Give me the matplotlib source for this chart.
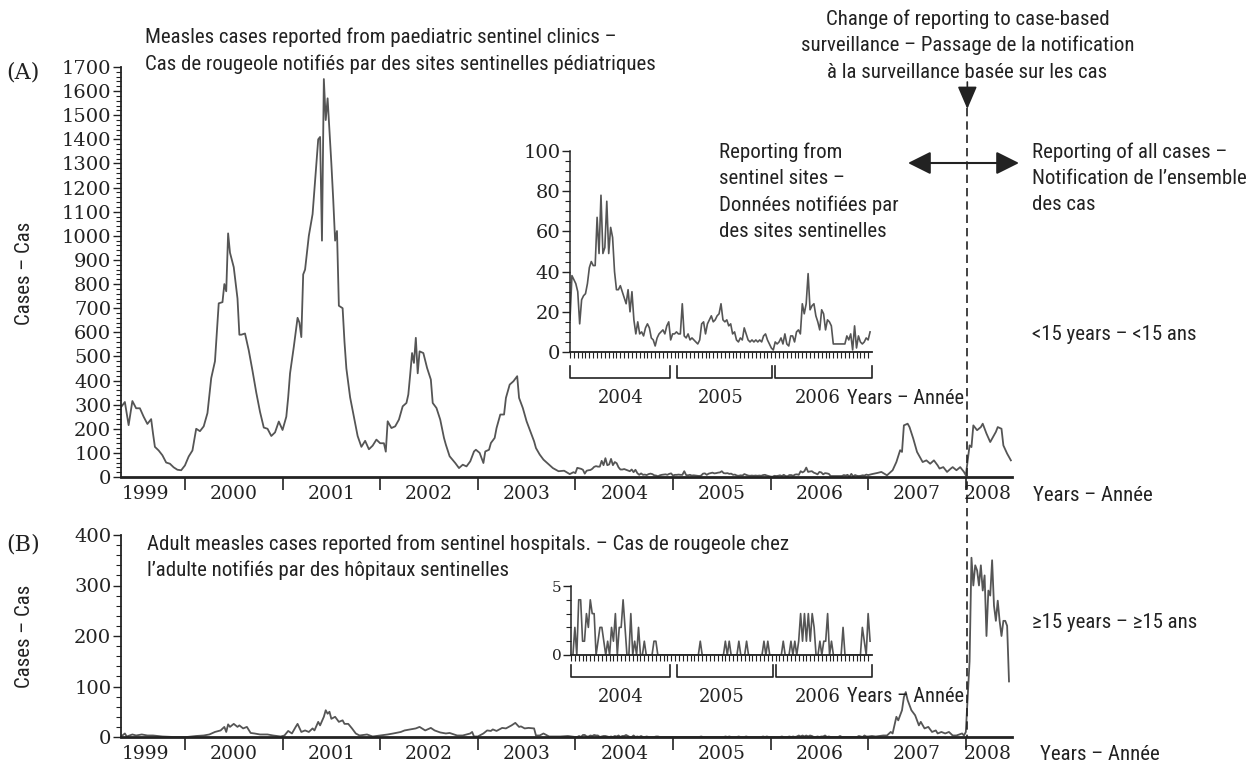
import numpy as np
import matplotlib.pyplot as plt
from matplotlib import font_manager
from matplotlib.ticker import MultipleLocator, FixedLocator
from matplotlib.transforms import blended_transform_factory
from matplotlib.lines import Line2D
from matplotlib.patches import FancyArrowPatch

W, H = 1256, 767
INK = '#222222'
LINE = '#555555'

# pick a narrow-ish sans if we have one
have = {f.name for f in font_manager.fontManager.ttflist}
if 'Roboto Condensed' in have:
    SANS, SANS_SIZE = 'Roboto Condensed', 15
elif 'Roboto' in have:
    SANS, SANS_SIZE = 'Roboto', 13.3
else:
    SANS, SANS_SIZE = 'Open Sans', 12.6
plt.rcParams['font.family'] = ['DejaVu Serif']

# weekly counts, weeks numbered from the start of 1999 (week 52 = 1 Jan 2000)
years = list(range(1999, 2009))
change_week = 468.8

weeks_child_early = [18, 20, 22, 24, 26, 28, 30, 32, 34, 35, 36, 38, 40, 42, 44, 46, 48, 50, 52, 54,
                     56, 58, 60, 62, 64, 66, 68, 70, 72, 73, 74, 75, 76, 78, 80, 81, 82, 84, 86, 88,
                     90, 92, 94, 96, 98, 100, 102, 104, 106, 107, 108, 110, 112, 113, 114, 115, 116, 118, 120, 122,
                     123, 124, 125, 126, 127, 128, 130, 131, 132, 133, 134, 136, 137, 138, 140, 142, 144, 146, 148, 150,
                     152, 154, 156, 158, 159, 160, 162, 164, 166, 168, 170, 171, 172, 173, 174, 175, 176, 177, 179, 181,
                     183, 184, 186, 188, 190, 191, 193, 196, 198, 200, 202, 204, 206, 207, 209, 211, 212, 214, 215, 217,
                     218, 220, 222, 223, 225, 227, 229, 230, 232, 234, 236, 238, 239, 241, 243, 246, 248, 251, 254, 257,
                     259]
cases_child_early = [290, 311, 215, 315, 285, 285, 250, 220, 240, 180, 125, 110, 90, 60, 55, 40, 30, 28, 48, 85,
                     110, 200, 190, 210, 265, 410, 480, 720, 725, 800, 770, 1010, 930, 870, 740, 590, 590, 595, 525, 440,
                     350, 270, 205, 200, 170, 185, 230, 195, 250, 330, 430, 540, 660, 640, 580, 840, 860, 1000, 1090, 1300,
                     1400, 1410, 980, 1650, 1480, 1570, 1300, 1150, 980, 1020, 710, 700, 560, 450, 330, 250, 170, 125, 150, 115,
                     130, 155, 140, 140, 105, 231, 203, 210, 238, 293, 307, 342, 425, 514, 473, 577, 430, 521, 514, 452,
                     404, 307, 286, 238, 162, 134, 86, 58, 37, 51, 44, 65, 106, 113, 100, 58, 106, 113, 141, 162,
                     203, 259, 259, 328, 383, 397, 418, 328, 286, 231, 189, 148, 120, 93, 72, 51, 37, 24, 26, 12,
                     20]

# sentinel clinics, <15 years, weekly 2004-2006 (inset A)
child_2004 = [16, 38, 36, 34, 30, 14, 26, 28, 29, 34, 42, 45, 43, 43, 67, 49, 78, 49, 52, 75,
              49, 62, 57, 40, 31, 31, 33, 30, 27, 24, 31, 20, 30, 16, 9, 15, 9, 10, 8, 12,
              14, 12, 7, 6, 3, 7, 9, 10, 11, 9, 13, 15]
child_2005 = [6, 9, 9, 10, 9, 9, 24, 8, 7, 9, 6, 7, 6, 5, 4, 6, 14, 15, 9, 14,
              16, 18, 15, 16, 18, 19, 24, 16, 15, 16, 13, 14, 9, 10, 6, 5, 7, 6, 12, 9,
              6, 5, 6, 5, 6, 5, 6, 5, 8, 9, 6, 4]
child_2006 = [2, 1, 5, 4, 5, 7, 4, 9, 4, 3, 8, 8, 5, 10, 11, 9, 24, 19, 24, 39,
              21, 23, 24, 18, 15, 11, 21, 19, 11, 16, 15, 13, 4, 4, 4, 4, 4, 4, 4, 8,
              6, 9, 1, 13, 2, 8, 5, 4, 5, 7, 6, 10]

weeks_child_late = [416, 418, 421, 423, 426, 429, 431, 433, 434, 435, 437, 438, 440, 442, 444, 445, 447, 449, 451, 453,
                    454, 456, 458, 460, 461, 463, 465, 467, 468, 469, 470, 471, 472, 474, 476, 477, 479, 481, 484, 485,
                    487, 488, 490, 492]
cases_child_late = [8, 12, 17, 21, 7, 28, 62, 111, 104, 214, 221, 207, 159, 104, 76, 62, 69, 55, 69, 48,
                    35, 41, 21, 35, 41, 28, 41, 21, 7, 69, 131, 124, 214, 194, 207, 221, 180, 145, 187, 207,
                    200, 131, 97, 69]

weeks_adult_early = [18, 20, 21, 24, 26, 29, 32, 35, 40, 46, 53, 58, 62, 65, 68, 71, 73, 74, 75, 76,
                     78, 80, 81, 83, 85, 87, 89, 92, 96, 99, 103, 105, 107, 109, 111, 112, 114, 116, 118, 120,
                     121, 123, 124, 126, 127, 128, 129, 130, 132, 134, 136, 137, 139, 141, 143, 145, 149, 152, 156, 160,
                     163, 167, 169, 172, 175, 177, 180, 183, 185, 188, 191, 193, 197, 200, 204, 205, 206, 208, 211, 213,
                     215, 216, 218, 221, 223, 226, 228, 230, 231, 233, 235, 238, 239, 241, 243, 246, 248, 252, 256, 258]
cases_adult_early = [1, 7, 1, 5, 3, 5, 3, 3, 1, 0, 0, 2, 3, 5, 10, 13, 20, 10, 25, 20,
                     26, 20, 23, 17, 20, 8, 7, 5, 5, 3, 1, 3, 12, 7, 20, 26, 10, 13, 10, 17,
                     13, 30, 23, 40, 53, 46, 50, 36, 40, 30, 33, 26, 26, 17, 7, 3, 5, 1, 3, 5,
                     7, 10, 13, 15, 17, 20, 13, 18, 13, 9, 7, 8, 3, 3, 7, 10, 1, 1, 7, 13,
                     12, 15, 12, 18, 17, 23, 28, 20, 21, 17, 18, 17, 3, 3, 7, 1, 1, 1, 2, 1]

# sentinel hospitals, >=15 years, weekly 2004-2006 (inset B)
adult_2004 = [0, 0, 2, 0, 4, 4, 1, 1, 3, 2, 4, 3, 3, 0, 1, 2, 2, 1, 0, 1,
              0, 2, 1, 3, 0, 2, 2, 4, 2, 0, 0, 3, 0, 1, 0, 2, 0, 0, 1, 0,
              0, 0, 0, 1, 1, 0, 0, 0, 0, 0, 0, 0]
adult_2005 = [0, 0, 0, 0, 0, 0, 0, 0, 0, 0, 0, 0, 0, 0, 0, 1, 0, 0, 0, 0,
              0, 0, 0, 0, 0, 0, 0, 0, 1, 0, 1, 0, 0, 0, 0, 1, 0, 0, 0, 1,
              0, 0, 0, 0, 0, 0, 0, 0, 1, 0, 1, 0]
adult_2006 = [0, 0, 0, 0, 0, 0, 1, 0, 0, 0, 1, 0, 1, 0, 1, 3, 1, 3, 1, 3,
              1, 3, 2, 0, 0, 1, 0, 1, 1, 3, 0, 1, 0, 0, 0, 0, 0, 2, 0, 0,
              0, 0, 0, 0, 0, 0, 0, 2, 1, 0, 3, 1]

weeks_adult_late = [416, 418, 420, 422, 424, 426, 428, 429, 431, 432, 434, 435, 436, 437, 439, 441, 443, 444, 446, 448,
                    450, 452, 453, 455, 457, 459, 461, 463, 466, 467, 468, 469, 470, 471, 472, 473, 474, 475, 476, 477,
                    478, 479, 480, 481, 482, 483, 484, 485, 486, 487, 488, 489, 490, 491]
cases_adult_late = [1, 2, 1, 2, 3, 3, 10, 7, 40, 33, 53, 79, 89, 73, 53, 43, 23, 30, 17, 20,
                    10, 13, 7, 10, 7, 10, 3, 3, 7, 3, 10, 80, 150, 355, 300, 340, 330, 300, 340, 290,
                    320, 200, 290, 280, 350, 260, 230, 270, 230, 200, 230, 230, 220, 110]


def year_of(weeks):
    return 1999 + np.asarray(weeks, dtype=float) / 52.0


inset_weeks = list(range(260, 416))
child_inset = child_2004 + child_2005 + child_2006
adult_inset = adult_2004 + adult_2005 + adult_2006
child_weeks = weeks_child_early + inset_weeks + weeks_child_late
child_cases = cases_child_early + child_inset + cases_child_late
adult_weeks = weeks_adult_early + inset_weeks + weeks_adult_late
adult_cases = cases_adult_early + adult_inset + cases_adult_late

fig = plt.figure(figsize=(W / 100, H / 100), dpi=100)


def axes_px(left, top, right, bottom):
    ax = fig.add_axes([left / W, 1 - bottom / H, (right - left) / W, (bottom - top) / H])
    ax.set_facecolor('none')
    for s in ('top', 'right'):
        ax.spines[s].set_visible(False)
    for s in ('left', 'bottom'):
        ax.spines[s].set_color(INK)
    return ax


def sans_text(x, y, s, **kw):
    kw.setdefault('size', SANS_SIZE)
    fig.text(x / W, 1 - y / H, s, family=SANS, color=INK, va='center_baseline', **kw)


ax_a = axes_px(121, 67, 1012, 477)
ax_b = axes_px(121, 535, 1012, 737)
ins_a = axes_px(570, 151, 872, 352)
ins_b = axes_px(571, 586, 872, 655)

ax_a.plot(year_of(child_weeks), child_cases, color=LINE, lw=1.3)
ax_b.plot(year_of(adult_weeks), adult_cases, color=LINE, lw=1.3)
ins_a.plot(year_of(inset_weeks), child_inset, color=LINE, lw=1.2)
ins_b.plot(year_of(inset_weeks), adult_inset, color=LINE, lw=1.2)

# main panels
x_left, x_right = 1999.345, 2008.473
label_pos = [1999.6] + [y + 0.5 for y in years[1:-1]] + [2008.22]
for ax, ymax, major in ((ax_a, 1700, 100), (ax_b, 400, 100)):
    ax.set_xlim(x_left, x_right)
    ax.set_ylim(0, ymax)
    ax.spines['left'].set_linewidth(1.3)
    ax.spines['bottom'].set_linewidth(2.0)
    ax.yaxis.set_major_locator(MultipleLocator(major))
    ax.yaxis.set_minor_locator(MultipleLocator(20))
    ax.tick_params(axis='y', which='major', length=6, width=1, labelsize=14, pad=1, colors=INK)
    ax.tick_params(axis='y', which='minor', length=3.5, width=0.8, colors=INK)
    ax.set_xticks(years[1:])
    ax.set_xticks(label_pos, [str(y) for y in years], minor=True)
    ax.tick_params(axis='x', which='major', length=9, width=1.2, labelbottom=False, colors=INK)
    ax.tick_params(axis='x', which='minor', length=0, labelsize=13.5, pad=6, colors=INK)

# insets
inset_label_pos = [2004.5, 2005.5, 2006.46]
for ax, ymax, major, minor, fs, y_br, y_lab in ((ins_a, 100, 20, 5, 14, 378, 396),
                                               (ins_b, 5, 5, 1, 11, 677, 695)):
    ax.set_xlim(2004, 2007)
    ax.set_ylim(0, ymax)
    ax.spines['left'].set_linewidth(1.1)
    ax.spines['bottom'].set_linewidth(1.3)
    ax.yaxis.set_major_locator(MultipleLocator(major))
    ax.yaxis.set_minor_locator(MultipleLocator(minor))
    ax.tick_params(axis='y', which='major', length=6, width=1, labelsize=fs, pad=1, colors=INK)
    ax.tick_params(axis='y', which='minor', length=3.5, width=0.8, colors=INK)
    ax.set_xticks([])
    ax.xaxis.set_minor_locator(FixedLocator(year_of(range(260, 416, 2))))
    ax.tick_params(axis='x', which='minor', length=4, width=0.8, colors=INK)
    tr = blended_transform_factory(ax.transData, fig.transFigure)
    yb, yt = 1 - y_br / H, 1 - (y_br - 12) / H
    for x0, x1 in ((2004.0, 2004.99), (2005.06, 2006.01), (2006.04, 2007.0)):
        ax.add_line(Line2D([x0, x0, x1, x1], [yt, yb, yb, yt], transform=tr,
                           color=INK, lw=1.2, clip_on=False))
    for y, xp in zip((2004, 2005, 2006), inset_label_pos):
        ax.text(xp, 1 - y_lab / H, str(y), transform=tr, ha='center',
                va='center_baseline', size=13, color=INK)
    ax.text(2006.755, 1 - y_lab / H, 'Years – Année', transform=tr, ha='left',
            va='center_baseline', size=SANS_SIZE - 0.3, family=SANS, color=INK)

# labels
fig.text(23 / W, 1 - 70 / H, '(A)', ha='center', va='center_baseline', size=16, color=INK)
fig.text(23 / W, 1 - 542 / H, '(B)', ha='center', va='center_baseline', size=16, color=INK)
for yc in (273, 636):
    fig.text(25 / W, 1 - yc / H, 'Cases – Cas', rotation=90, ha='center', va='center',
             family=SANS, size=SANS_SIZE, color=INK)

sans_text(145, 35, 'Measles cases reported from paediatric sentinel clinics –')
sans_text(145, 62, 'Cas de rougeole notifiés par des sites sentinelles pédiatriques')
sans_text(147, 542, 'Adult measles cases reported from sentinel hospitals. – Cas de rougeole chez')
sans_text(147, 568, 'l’adulte notifiés par des hôpitaux sentinelles')
for i, s in enumerate(['Reporting from', 'sentinel sites –', 'Données notifiées par', 'des sites sentinelles']):
    sans_text(719, 150 + 26.5 * i, s)
for i, s in enumerate(['Reporting of all cases –', 'Notification de l’ensemble', 'des cas']):
    sans_text(1032, 150 + 26.5 * i, s)
sans_text(1032, 332, '<15 years – <15 ans')
sans_text(1032, 620, '≥15 years – ≥15 ans')
sans_text(1033, 494, 'Years – Année')
sans_text(1040, 752, 'Years – Année')

# change of reporting: dashed line, arrows and caption
xc = fig.transFigure.inverted().transform(ax_a.transData.transform((year_of(change_week), 0)))[0]
for i, s in enumerate(['Change of reporting to case-based',
                       'surveillance – Passage de la notification',
                       'à la surveillance basée sur les cas']):
    fig.text(xc, 1 - (17 + 26.5 * i) / H, s, ha='center', va='center_baseline',
             family=SANS, size=SANS_SIZE, color=INK)
fig.add_artist(Line2D([xc, xc], [1 - 108 / H, 1 - 738 / H], transform=fig.transFigure,
                      color=INK, lw=1.2, ls=(0, (5, 3))))
fig.add_artist(FancyArrowPatch((xc, 1 - 82 / H), (xc, 1 - 109 / H), transform=fig.transFigure,
                               arrowstyle='-|>,head_length=0.7,head_width=0.3', mutation_scale=20,
                               color=INK, lw=1.2, shrinkA=0, shrinkB=0))
fig.add_artist(FancyArrowPatch((908 / W, 1 - 163 / H), (1019 / W, 1 - 163 / H), transform=fig.transFigure,
                               arrowstyle='<|-|>,head_length=0.7,head_width=0.35', mutation_scale=20,
                               color=INK, lw=1.5, shrinkA=0, shrinkB=0))

fig.savefig('out.png', dpi=100)
